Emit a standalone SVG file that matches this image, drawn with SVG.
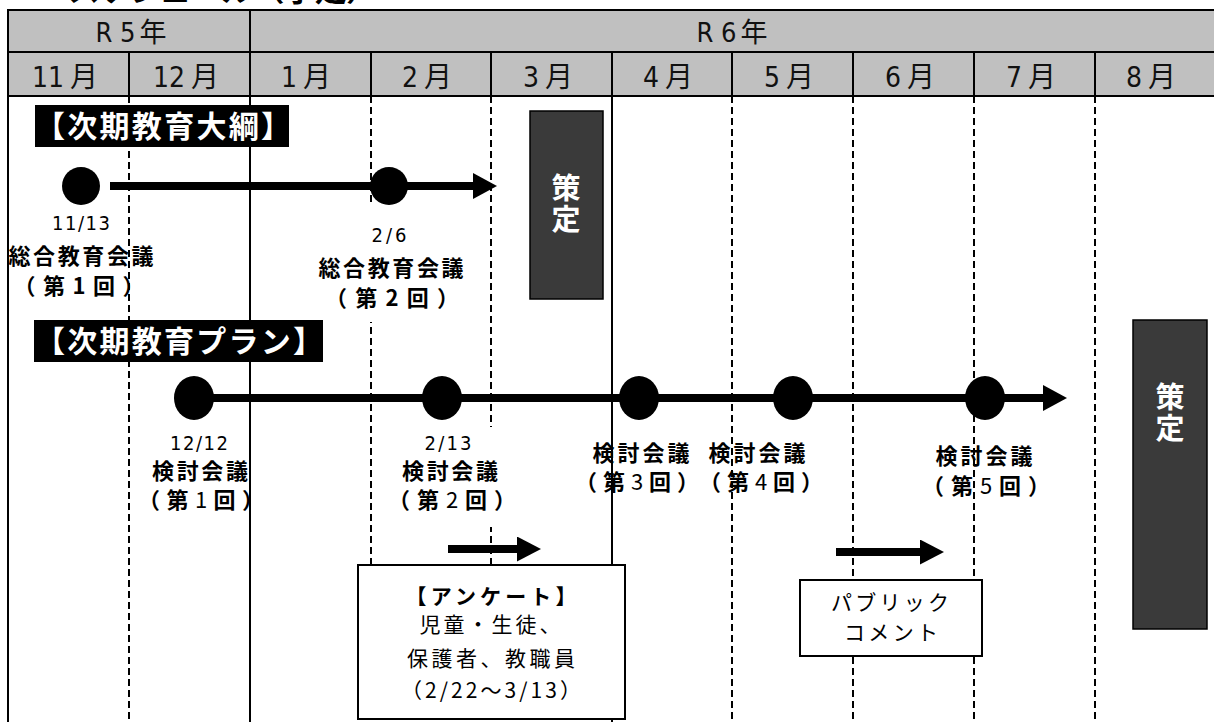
<svg xmlns="http://www.w3.org/2000/svg" width="1214" height="722" viewBox="0 0 1214 722">
<defs>
<style>
.hd{font-family:"Liberation Sans Narrow","DejaVu Sans Condensed","Noto Sans CJK JP",sans-serif;fill:#111;text-anchor:middle}
.grid{stroke:#000;stroke-width:2;fill:none}
.dash{stroke:#000;stroke-width:2;stroke-dasharray:7 4;fill:none}
.jp{font-family:"Noto Sans CJK JP","Noto Sans",sans-serif;text-anchor:middle;fill:#000;font-size:21px}
.lb{font-size:22px;font-weight:bold}
.n{font-weight:normal}
.num{font-family:"Liberation Sans Narrow","DejaVu Sans Condensed","Liberation Sans",sans-serif;font-size:20px;text-anchor:middle;fill:#000}
.tag{fill:#000}
.tagt{font-family:"Noto Sans CJK JP",sans-serif;font-weight:bold;font-size:30px;fill:#fff}
.sk{fill:#3a3a3a;stroke:#000;stroke-width:1.5}
.st{font-family:"Noto Sans CJK JP",sans-serif;font-weight:bold;font-size:29px;fill:#fff;text-anchor:middle;letter-spacing:2px}
.ln{stroke:#000;stroke-width:8;fill:none}
.box{fill:#fff;stroke:#000;stroke-width:2}
.wb{fill:#fff}
.dot{fill:#000}
</style>
<marker id="ah" markerUnits="userSpaceOnUse" markerWidth="26" markerHeight="28" refX="0" refY="13" orient="auto"><path d="M0,0 L24,13 L0,26 z" fill="#000"/></marker>
<marker id="ahs" markerUnits="userSpaceOnUse" markerWidth="26" markerHeight="26" refX="0" refY="12.5" orient="auto"><path d="M0,0 L24,12.5 L0,25 z" fill="#000"/></marker>
</defs>

<g id="title">
<text x="68" y="1" font-family="Noto Sans CJK JP, sans-serif" font-weight="bold" font-size="32" textLength="310" lengthAdjust="spacing" fill="#000">スケジュール（予定）</text>
</g>

<g id="header">
<rect x="8" y="10" width="1212" height="86" fill="#c0c0c0" stroke="#000" stroke-width="2"/>
<line class="grid" x1="8" y1="52" x2="1214" y2="52"/>
<line class="grid" x1="250" y1="10" x2="250" y2="96"/>
<line class="grid" x1="129" y1="52" x2="129" y2="96"/>
<line class="grid" x1="371" y1="52" x2="371" y2="96"/>
<line class="grid" x1="491" y1="52" x2="491" y2="96"/>
<line class="grid" x1="612" y1="52" x2="612" y2="96"/>
<line class="grid" x1="732" y1="52" x2="732" y2="96"/>
<line class="grid" x1="853" y1="52" x2="853" y2="96"/>
<line class="grid" x1="974" y1="52" x2="974" y2="96"/>
<line class="grid" x1="1095" y1="52" x2="1095" y2="96"/>
<text class="hd" x="131" y="42" font-size="27">R 5<tspan dx="4">年</tspan></text>
<text class="hd" x="732" y="42" font-size="27">R 6<tspan dx="4">年</tspan></text>
<text class="hd" x="65" y="87" font-size="28">11<tspan dx="6">月</tspan></text>
<text class="hd" x="186" y="87" font-size="28">12<tspan dx="6">月</tspan></text>
<text class="hd" x="306" y="87" font-size="28">1<tspan dx="6">月</tspan></text>
<text class="hd" x="427" y="87" font-size="28">2<tspan dx="6">月</tspan></text>
<text class="hd" x="548" y="87" font-size="28">3<tspan dx="6">月</tspan></text>
<text class="hd" x="668" y="87" font-size="28">4<tspan dx="6">月</tspan></text>
<text class="hd" x="789" y="87" font-size="28">5<tspan dx="6">月</tspan></text>
<text class="hd" x="910" y="87" font-size="28">6<tspan dx="6">月</tspan></text>
<text class="hd" x="1031" y="87" font-size="28">7<tspan dx="6">月</tspan></text>
<text class="hd" x="1151" y="87" font-size="28">8<tspan dx="6">月</tspan></text>
</g>

<g id="grid">
<line class="grid" x1="8" y1="96" x2="8" y2="722"/>
<line class="dash" x1="129" y1="96" x2="129" y2="722"/>
<line class="grid" x1="250" y1="96" x2="250" y2="722"/>
<line class="dash" x1="371" y1="96" x2="371" y2="722"/>
<line class="dash" x1="491" y1="96" x2="491" y2="722"/>
<line class="grid" x1="612" y1="96" x2="612" y2="722"/>
<line class="dash" x1="732" y1="96" x2="732" y2="722"/>
<line class="dash" x1="853" y1="96" x2="853" y2="722"/>
<line class="dash" x1="974" y1="96" x2="974" y2="722"/>
<line class="dash" x1="1095" y1="96" x2="1095" y2="722"/>
</g>

<g id="label-backgrounds">
<rect class="wb" x="300" y="204" width="170" height="118"/>
<rect class="wb" x="400" y="427" width="118" height="100"/>
</g>

<g id="connectors">
<path class="ln" d="M110,186 H473" marker-end="url(#ah)"/>
<path class="ln" d="M194,398 H1043" marker-end="url(#ah)"/>
<path class="ln" d="M448,549 H517" marker-end="url(#ahs)"/>
<path class="ln" d="M836,552 H920" marker-end="url(#ahs)"/>
</g>

<g id="taiko-label">
<rect class="tag" x="35" y="105" width="254" height="42"/>
<text class="tagt" x="35" y="137" textLength="256" lengthAdjust="spacing">【次期教育大綱】</text>
</g>

<g id="taiko-meeting-1">
<circle class="dot" cx="81" cy="186" r="19"/>
<text class="num" x="81" y="230" textLength="58" lengthAdjust="spacing">11/13</text>
<text class="jp lb" x="81" y="264" textLength="145" lengthAdjust="spacing">総合教育会議</text>
<text class="jp lb" x="79" y="294" textLength="131" lengthAdjust="spacing">（第1回）</text>
</g>

<g id="taiko-meeting-2">
<circle class="dot" cx="389" cy="186" r="19"/>
<text class="num" x="389" y="242" textLength="35" lengthAdjust="spacing">2/6</text>
<text class="jp lb" x="391" y="276" textLength="145" lengthAdjust="spacing">総合教育会議</text>
<text class="jp lb" x="392" y="306" textLength="134" lengthAdjust="spacing">（第2回）</text>
</g>

<g id="taiko-sakutei">
<rect class="sk" x="530" y="111" width="73" height="188"/>
<text class="st" x="566" y="204" writing-mode="vertical-rl">策定</text>
</g>

<g id="plan-label">
<rect class="tag" x="34" y="320" width="289" height="42"/>
<text class="tagt" x="35" y="352" textLength="288" lengthAdjust="spacing">【次期教育プラン】</text>
</g>

<g id="plan-meeting-1">
<ellipse class="dot" cx="194" cy="398" rx="20" ry="22"/>
<text class="num" x="199" y="450" textLength="58" lengthAdjust="spacing">12/12</text>
<text class="jp lb" x="200" y="479" textLength="96" lengthAdjust="spacing">検討会議</text>
<text class="jp lb" x="201" y="508" textLength="126" lengthAdjust="spacing">（第<tspan class="n">1</tspan>回）</text>
</g>

<g id="plan-meeting-2">
<ellipse class="dot" cx="442" cy="398" rx="20" ry="22"/>
<text class="num" x="448" y="450" textLength="47" lengthAdjust="spacing">2/13</text>
<text class="jp lb" x="450" y="479" textLength="96" lengthAdjust="spacing">検討会議</text>
<text class="jp lb" x="452" y="508" textLength="128" lengthAdjust="spacing">（第<tspan class="n">2</tspan>回）</text>
</g>

<g id="plan-meeting-3">
<ellipse class="dot" cx="639" cy="398" rx="20" ry="22"/>
<text class="jp lb" x="641" y="461" textLength="97" lengthAdjust="spacing">検討会議</text>
<text class="jp lb" x="637" y="490" textLength="124" lengthAdjust="spacing">（第<tspan class="n">3</tspan>回）</text>
</g>

<g id="plan-meeting-4">
<ellipse class="dot" cx="793" cy="398" rx="20" ry="22"/>
<text class="jp lb" x="757" y="461" textLength="97" lengthAdjust="spacing">検討会議</text>
<text class="jp lb" x="761" y="490" textLength="124" lengthAdjust="spacing">（第<tspan class="n">4</tspan>回）</text>
</g>

<g id="plan-meeting-5">
<ellipse class="dot" cx="985" cy="398" rx="20" ry="22"/>
<text class="jp lb" x="984" y="464" textLength="97" lengthAdjust="spacing">検討会議</text>
<text class="jp lb" x="986" y="494" textLength="128" lengthAdjust="spacing">（第<tspan class="n">5</tspan>回）</text>
</g>

<g id="plan-sakutei">
<rect class="sk" x="1133" y="320" width="74" height="309"/>
<text class="st" x="1170" y="413" writing-mode="vertical-rl">策定</text>
</g>

<g id="survey">
<rect class="box" x="358" y="565" width="267" height="154"/>
<text class="jp" x="491" y="604" textLength="171" lengthAdjust="spacing" font-weight="bold">【アンケート】</text>
<text class="jp" x="490" y="632" textLength="141" lengthAdjust="spacing">児童・生徒、</text>
<text class="jp" x="491" y="666" textLength="168" lengthAdjust="spacing">保護者、教職員</text>
<text class="jp" x="491" y="698" textLength="180" lengthAdjust="spacing">（2/22～3/13）</text>
</g>

<g id="public-comment">
<rect class="box" x="800" y="580" width="182" height="76"/>
<text class="jp" x="890" y="610" textLength="118" lengthAdjust="spacing">パブリック</text>
<text class="jp" x="891" y="640" textLength="94" lengthAdjust="spacing">コメント</text>
</g>
</svg>
